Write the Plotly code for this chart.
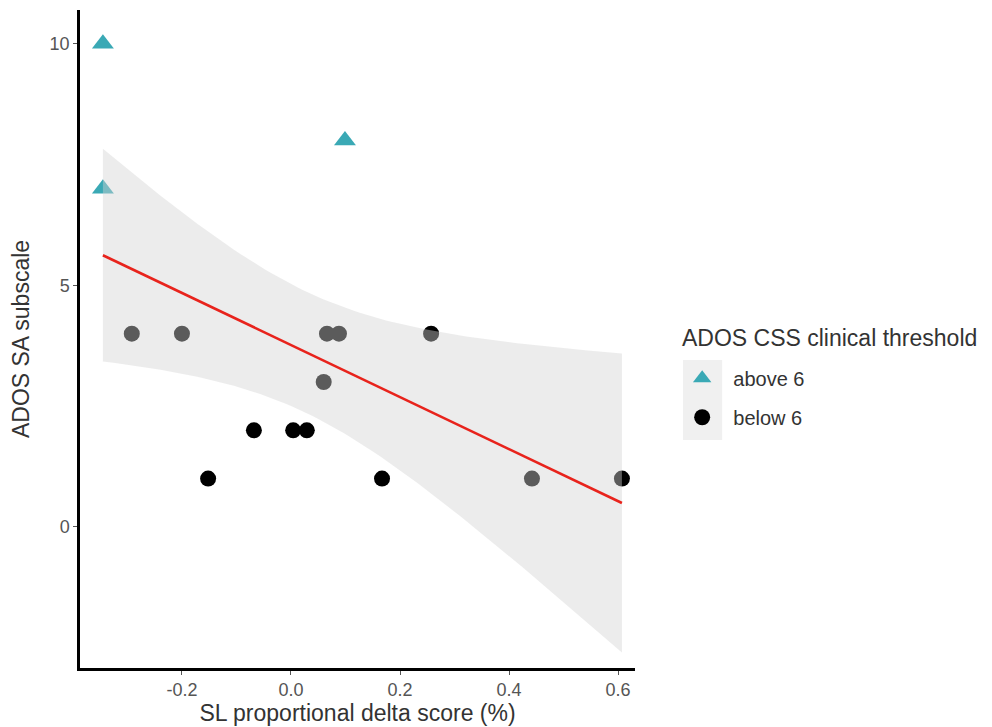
import numpy as np
import plotly.graph_objects as go

# Data
above_x = [-0.345, -0.345, 0.099]
above_y = [10, 7, 8]
below_x = [-0.292, -0.200, 0.066, 0.088, 0.257, 0.060, -0.068, 0.004, 0.029, -0.152, 0.167, 0.442, 0.607]
below_y = [4, 4, 4, 4, 4, 3, 2, 2, 2, 1, 1, 1, 1]
x_ticks = [-0.2, 0.0, 0.2, 0.4, 0.6]
x_tick_labels = ["-0.2", "0.0", "0.2", "0.4", "0.6"]
y_ticks = [0, 5, 10]
T_CRIT = 2.1448  # t(0.975, df=14)

# Linear fit with 95% confidence band (fit over all points)
xa = np.array(above_x + below_x)
ya = np.array(above_y + below_y, dtype=float)
n = len(xa)
slope, intercept = np.polyfit(xa, ya, 1)
resid = ya - (slope * xa + intercept)
s = np.sqrt(np.sum(resid ** 2) / (n - 2))
xbar = xa.mean()
sxx = np.sum((xa - xbar) ** 2)
xg = np.linspace(xa.min(), xa.max(), 100)
yg = slope * xg + intercept
se = s * np.sqrt(1 / n + (xg - xbar) ** 2 / sxx)
lo = yg - T_CRIT * se
hi = yg + T_CRIT * se

NB = "\u00a0\u00a0"

fig = go.Figure()

fig.add_trace(go.Scatter(
    x=above_x, y=above_y, mode="markers", name=NB + "above 6", legendgroup="a",
    marker=dict(symbol="triangle-up", size=19, color="#3AA9B5", line=dict(width=0)),
))
fig.add_trace(go.Scatter(
    x=below_x, y=below_y, mode="markers", name=NB + "below 6", legendgroup="b",
    marker=dict(symbol="circle", size=16, color="#000000", line=dict(width=0)),
))
fig.add_trace(go.Scatter(
    x=np.concatenate([xg, xg[::-1]]), y=np.concatenate([hi, lo[::-1]]),
    mode="lines", fill="toself", fillcolor="rgba(210,210,210,0.43)",
    line=dict(width=0), hoverinfo="skip", showlegend=False,
))
fig.add_trace(go.Scatter(
    x=xg, y=yg, mode="lines", line=dict(color="#E8231C", width=2.6),
    showlegend=False,
))

fig.update_layout(
    width=984, height=719,
    paper_bgcolor="white", plot_bgcolor="white",
    margin=dict(l=72, r=357, t=2, b=59, autoexpand=False),
    font=dict(family="Liberation Sans, Arial, sans-serif", color="#000000"),
    showlegend=True,
    legend=dict(
        font=dict(size=20, color="#333333"),
        x=1.085, y=0.47, xanchor="left", yanchor="top",
        bgcolor="rgba(0,0,0,0)", itemsizing="trace",
        traceorder="grouped", tracegroupgap=10,
    ),
    xaxis=dict(
        range=[-0.387, 0.631], tickvals=x_ticks, ticktext=x_tick_labels,
        showline=True, linecolor="black", linewidth=2.5,
        ticks="outside", ticklen=4, tickcolor="#555555",
        showgrid=False, zeroline=False, automargin=False,
        tickfont=dict(size=18, color="#555555"),
        title=dict(text="SL proportional delta score (%)", font=dict(size=23, color="#333333"), standoff=4),
    ),
    yaxis=dict(
        range=[-2.92, 10.7], tickvals=y_ticks,
        showline=True, linecolor="black", linewidth=2.5,
        ticks="outside", ticklen=4, tickcolor="#555555",
        showgrid=False, zeroline=False, automargin=False,
        tickfont=dict(size=18, color="#555555"),
        title=dict(text="ADOS SA subscale", font=dict(size=23, color="#333333"), standoff=14),
    ),
    annotations=[dict(
        text="ADOS CSS clinical threshold", xref="paper", yref="paper",
        x=1.081, y=0.5015, xanchor="left", yanchor="middle", showarrow=False,
        font=dict(size=23, color="#333333"),
    )],
    shapes=[dict(
        type="rect", xref="paper", yref="paper", layer="below",
        x0=1.0865, x1=1.157, y0=0.3465, y1=0.468,
        fillcolor="#F0F0F0", line=dict(width=0),
    )],
)

fig.write_html("out.html")
